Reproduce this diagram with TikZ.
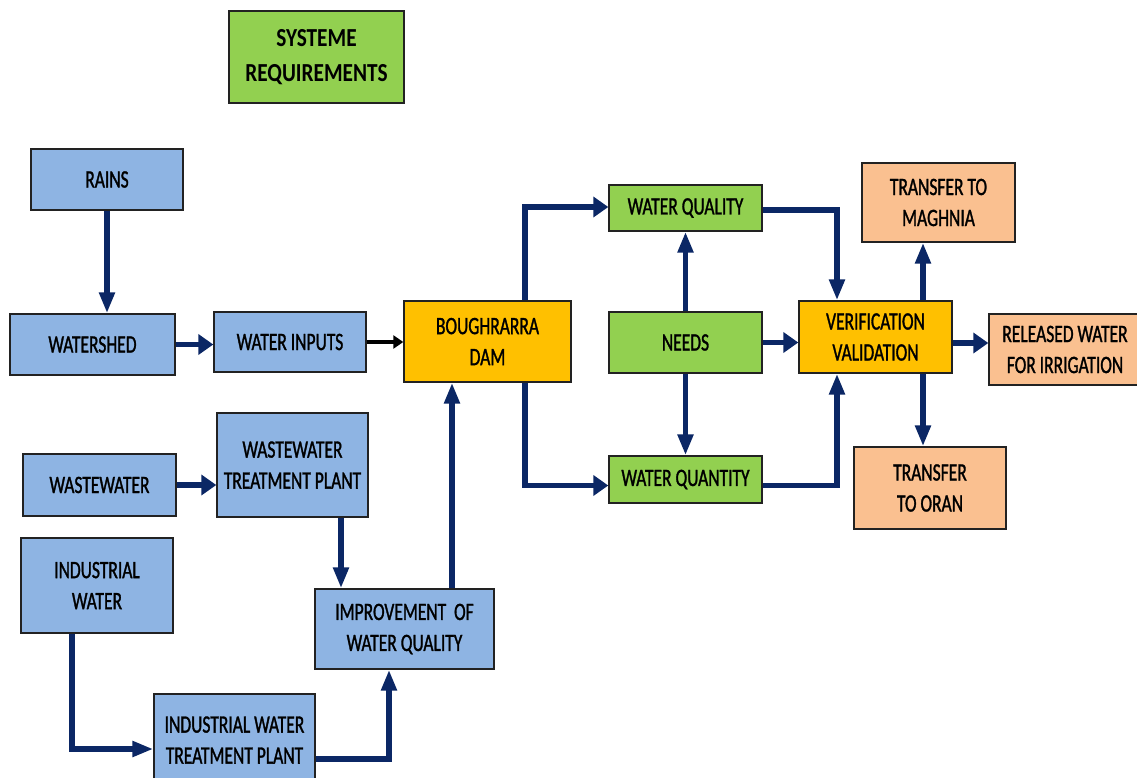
\documentclass[tikz,border=0pt]{standalone}
\usepackage{fontspec}
\setmainfont{Carlito}
\newfontfamily\boxfont{Carlito}[FakeStretch=0.70, FakeBold=1.2]
\newfontfamily\titlefont{Carlito}[FakeStretch=0.82]
\usetikzlibrary{arrows.meta}
\definecolor{boxblue}{HTML}{8EB4E3}
\definecolor{boxgreen}{HTML}{92D050}
\definecolor{boxorange}{HTML}{FFC000}
\definecolor{boxpeach}{HTML}{FAC090}
\definecolor{flownavy}{HTML}{0B2765}
\definecolor{edgegray}{HTML}{222222}

\tikzset{
  box/.style={draw=edgegray, line width=1.4pt, inner sep=0pt, align=center,
    font=\boxfont\fontsize{25}{31}\selectfont},
  bluebox/.style={box, fill=boxblue},
  greenbox/.style={box, fill=boxgreen},
  orangebox/.style={box, fill=boxorange},
  peachbox/.style={box, fill=boxpeach},
  flow/.style={draw=flownavy, line width=5.5pt},
  harr/.style={flow, -{Triangle[length=15pt, width=20pt]}},
  varr/.style={flow, -{Triangle[length=21pt, width=15pt]}},
  thinarr/.style={draw=black, line width=3.5pt, -{Triangle[length=10pt, width=13pt]}}
}

\begin{document}
\begin{tikzpicture}[x=1pt, y=-1pt]
\useasboundingbox (0,0) rectangle (1137,777);

% title
\node[greenbox, minimum width=175pt, minimum height=92pt,
      font=\titlefont\bfseries\fontsize{26}{35}\selectfont]
  (title) at (316.5,57) {SYSTEME\\REQUIREMENTS};

% sources
\node[bluebox, minimum width=152pt, minimum height=61pt] (rains) at (107,179.5) {RAINS};
\node[bluebox, minimum width=165pt, minimum height=61pt] (watershed) at (92.5,344.5) {WATERSHED};
\node[bluebox, minimum width=152pt, minimum height=60pt] (inputs) at (290,342) {WATER INPUTS};
\node[bluebox, minimum width=153pt, minimum height=62pt] (wastewater) at (99.5,485) {WASTEWATER};
\node[bluebox, minimum width=151pt, minimum height=104pt] (wwtp) at (292.5,465) {WASTEWATER\\TREATMENT PLANT};
\node[bluebox, minimum width=152pt, minimum height=95pt] (indwater) at (97,585.5) {INDUSTRIAL\\WATER};
\node[bluebox, minimum width=179pt, minimum height=80pt] (improv) at (404.5,629) {IMPROVEMENT~ OF\\WATER QUALITY};
\node[bluebox, minimum width=161pt, minimum height=92pt] (iwtp) at (234.5,740) {INDUSTRIAL WATER\\TREATMENT PLANT};

% dam
\node[orangebox, minimum width=167pt, minimum height=81pt] (dam) at (487.5,341.5) {BOUGHRARRA\\DAM};

% requirements
\node[greenbox, minimum width=153pt, minimum height=46pt] (wqual) at (685.5,208) {\raisebox{3pt}{WATER QUALITY}};
\node[greenbox, minimum width=153pt, minimum height=61pt] (needs) at (685.5,342.5) {NEEDS};
\node[greenbox, minimum width=153pt, minimum height=47pt] (wquant) at (685.5,479.5) {WATER QUANTITY};

% verification and outlets
\node[orangebox, minimum width=153pt, minimum height=72pt] (verif) at (875.5,337) {VERIFICATION\\VALIDATION};
\node[peachbox, minimum width=153pt, minimum height=79pt] (maghnia) at (938.5,202.5) {TRANSFER TO\\MAGHNIA};
\node[peachbox, minimum width=152pt, minimum height=71pt] (released) at (1065,349.5) {RELEASED WATER\\FOR IRRIGATION};
\node[peachbox, minimum width=152pt, minimum height=82pt] (oran) at (930,488) {TRANSFER\\TO ORAN};

% connectors
\draw[varr] (rains.south) -- (rains.south |- watershed.north);
\draw[harr] (watershed.east) -- (watershed.east -| inputs.west);
\draw[thinarr] (inputs.east) -- (inputs.east -| dam.west);

\draw[harr] ([xshift=37.5pt]dam.north) |- ([yshift=1pt]wqual.west);
\draw[harr] ([xshift=37.5pt]dam.south) |- ([yshift=-6pt]wquant.west);

\draw[varr] ([xshift=-25pt]indwater.south) |- ([yshift=-9pt]iwtp.west);
\draw[varr] ([yshift=-19pt]iwtp.east) -| ([xshift=-15.5pt]improv.south);
\draw[varr] ([xshift=48.5pt]wwtp.south) -- ([xshift=48.5pt]wwtp.south |- improv.north);
\draw[harr] (wastewater.east) -- (wastewater.east -| wwtp.west);
\draw[varr] ([xshift=47.5pt]improv.north) -- ([xshift=47.5pt]improv.north |- dam.south);

\draw[varr] (needs.north) -- (wqual.south);
\draw[varr] (needs.south) -- (wquant.north);
\draw[harr] (needs.east) -- (needs.east -| verif.west);

\draw[varr] ([yshift=-2pt]wqual.east) -| ([xshift=-38.5pt]verif.north);
\draw[varr] ([yshift=-6pt]wquant.east) -| ([xshift=-38.5pt]verif.south);

\draw[varr] ([xshift=47.5pt]verif.north) -- ([xshift=47.5pt]verif.north |- maghnia.south);
\draw[varr] ([xshift=47.5pt]verif.south) -- ([xshift=47.5pt]verif.south |- oran.north);
\draw[harr] ([yshift=-6pt]verif.east) -- ([yshift=-6pt]verif.east -| released.west);
\end{tikzpicture}
\end{document}
